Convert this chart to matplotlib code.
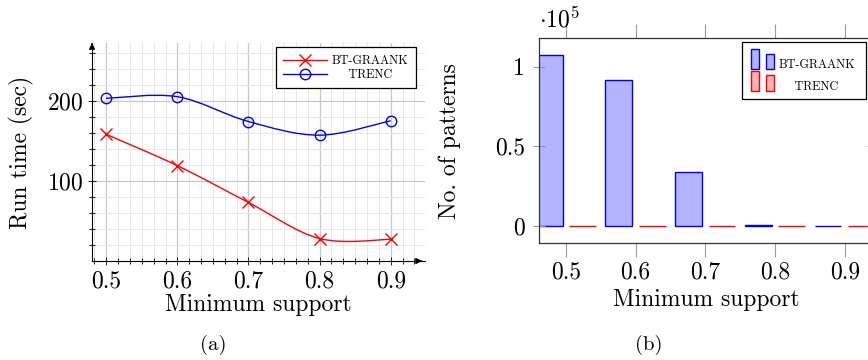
import numpy as np
import matplotlib
matplotlib.use('Agg')
import matplotlib.pyplot as plt
from matplotlib.path import Path
from matplotlib.patches import PathPatch, Rectangle
from matplotlib.lines import Line2D
from matplotlib.legend_handler import HandlerBase

plt.rcParams['font.family'] = ['cmr10', 'DejaVu Serif']
plt.rcParams['mathtext.fontset'] = 'cm'
plt.rcParams['axes.formatter.use_mathtext'] = True

# data
support = [0.5, 0.6, 0.7, 0.8, 0.9]
support_labels = ['0.5', '0.6', '0.7', '0.8', '0.9']
runtime_btgraank = [158, 119, 73, 28, 27]
runtime_trenc = [203, 205, 174, 157, 175]
patterns_btgraank = [107300, 91500, 34000, 600, 100]
patterns_trenc = [20, 15, 10, 8, 5]
series_names = ['BT-GRAANK', 'TRENC']

RED = '#ff0000'
BLUE = '#0000ff'
FS = 17
LEG_FS = 8.8


def smooth_path(xs, ys, k=1 / 6):
    pts = np.column_stack([xs, ys]).astype(float)
    n = len(pts)
    verts = [pts[0]]
    codes = [Path.MOVETO]
    for i in range(n - 1):
        p0 = pts[max(i - 1, 0)]
        p1 = pts[i]
        p2 = pts[i + 1]
        p3 = pts[min(i + 2, n - 1)]
        verts += [p1 + (p2 - p0) * k, p2 - (p3 - p1) * k, p2]
        codes += [Path.CURVE4] * 3
    return Path(verts, codes)


class TwoBarHandler(HandlerBase):
    # pgfplots style ybar legend: two small bars
    def create_artists(self, legend, orig_handle, xdescent, ydescent,
                       width, height, fontsize, trans):
        x0, y0 = -xdescent, -0.12 * fontsize
        w = 0.66 * fontsize
        kw = dict(facecolor=orig_handle.get_facecolor(),
                  edgecolor=orig_handle.get_edgecolor(), lw=1.0, transform=trans)
        r1 = Rectangle((x0, y0), w, 1.7 * fontsize, **kw)
        r2 = Rectangle((x0 + 1.25 * fontsize, y0), w, 1.3 * fontsize, **kw)
        return [r1, r2]


fig = plt.figure(figsize=(8.68, 3.6), dpi=100)

# (a) run time
ax1 = fig.add_axes([0.106, 0.275, 0.3835, 0.6055])
ax1.set_xlim(0.48, 0.948)
ax1.set_ylim(0, 272)
for vals, col, mk, ms in [(runtime_btgraank, RED, 'x', 9), (runtime_trenc, BLUE, 'o', 7.5)]:
    ax1.add_patch(PathPatch(smooth_path(support, vals), fill=False, edgecolor=col, lw=1.0, zorder=3))
    ax1.plot(support, vals, linestyle='none', marker=mk, ms=ms, mfc='none', mec=col, mew=1.0, zorder=4)

ax1.set_xticks(support)
ax1.set_xticklabels(support_labels)
ax1.set_xticks(np.arange(0.5 - 1 / 60, 0.948, 1 / 60), minor=True)
ax1.set_yticks([100, 200])
ax1.set_yticks(np.arange(20, 272, 20), minor=True)
ax1.grid(which='major', color='#c8c8c8', lw=0.9)
ax1.grid(which='minor', color='#e6e6e6', lw=0.7)
ax1.set_axisbelow(True)
ax1.tick_params(which='both', direction='inout', color='black', width=0.6, labelsize=FS)
ax1.tick_params(which='major', length=6)
ax1.tick_params(which='minor', length=5)
for s in ['top', 'right']:
    ax1.spines[s].set_visible(False)
for s in ['left', 'bottom']:
    ax1.spines[s].set_linewidth(0.8)
ax1.annotate('', xy=(1.0, 0), xytext=(0.98, 0), xycoords='axes fraction',
             arrowprops=dict(arrowstyle='-|>', color='black', lw=0.8, mutation_scale=9))
ax1.annotate('', xy=(0, 1.0), xytext=(0, 0.98), xycoords='axes fraction',
             arrowprops=dict(arrowstyle='-|>', color='black', lw=0.8, mutation_scale=9))
ax1.set_xlabel('Minimum support', fontsize=FS, labelpad=1)
ax1.set_ylabel('Run time (sec)', fontsize=FS, labelpad=9)

handles1 = [Line2D([], [], color=RED, marker='x', ms=9, mfc='none', lw=1.0),
            Line2D([], [], color=BLUE, marker='o', ms=7.5, mfc='none', lw=1.0)]
leg1 = ax1.legend(handles1, [series_names[0], '    ' + series_names[1]],
                  loc='upper right', bbox_to_anchor=(0.973, 0.98), fontsize=LEG_FS,
                  handlelength=3.6, handletextpad=0.38, labelspacing=0.15,
                  borderpad=0.6, borderaxespad=0, fancybox=False, framealpha=1,
                  edgecolor='black')
leg1.get_frame().set_linewidth(0.9)

# (b) number of patterns
ax2 = fig.add_axes([0.6206, 0.324, 0.3855, 0.5696])
off, w = 0.024, 0.0385
x = np.array(support)
ax2.bar(x - off, patterns_btgraank, width=w, color='#b3b3ff', edgecolor=BLUE, lw=1.0)
ax2.bar(x + off, patterns_trenc, width=w, color='#ffb3b3', edgecolor=RED, lw=1.0)
ax2.set_xlim(0.461, 0.941)
ax2.set_ylim(-10700, 117700)
ax2.set_xticks(support)
ax2.set_xticklabels(support_labels)
ax2.set_yticks([0, 50000, 100000])
ax2.set_yticklabels(['0', '0.5', '1'])
ax2.tick_params(axis='x', which='both', top=True, bottom=True, direction='out',
                color='#9a9a9a', length=10, width=0.8, labelsize=FS, pad=3)
ax2.tick_params(axis='y', which='both', left=True, right=True, direction='inout',
                color='#9a9a9a', length=8, width=0.8, labelsize=FS, pad=6)
for s in ax2.spines.values():
    s.set_linewidth(0.9)
    s.set_color('#333333')
ax2.set_xlabel('Minimum support', fontsize=FS, labelpad=4)
ax2.set_ylabel('No. of patterns', fontsize=FS, labelpad=24)
ax2.text(0.0, 1.03, r'$\cdot 10^5$', transform=ax2.transAxes, fontsize=FS, ha='left', va='bottom')

# legend frame drawn separately so the tall bar handles fit
ax2.add_patch(Rectangle((0.6076, 0.704), 0.3704, 0.2765, transform=ax2.transAxes,
                        facecolor='white', edgecolor='black', lw=0.9, zorder=4, clip_on=False))
handles2 = [Rectangle((0, 0), 1, 1, facecolor='#b3b3ff', edgecolor=BLUE),
            Rectangle((0, 0), 1, 1, facecolor='#ffb3b3', edgecolor=RED)]
leg2 = ax2.legend(handles2, [series_names[0], '    ' + series_names[1]],
                  loc='upper left', bbox_to_anchor=(0.6336, 0.9), fontsize=LEG_FS,
                  handler_map={Rectangle: TwoBarHandler()},
                  handlelength=1.97, handletextpad=0.28, labelspacing=0.8,
                  borderpad=0, borderaxespad=0, frameon=False)
leg2.set_zorder(5)

fig.text(213 / 868, 1 - 345 / 360, '(a)', fontsize=15, ha='center', va='center')
fig.text(649 / 868, 1 - 345 / 360, '(b)', fontsize=15, ha='center', va='center')

fig.savefig('out.png', dpi=100)
